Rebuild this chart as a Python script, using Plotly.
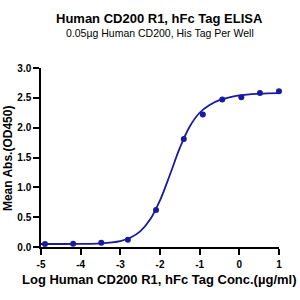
import plotly.graph_objects as go

# Measured points (log concentration, mean absorbance)
log_conc = [1.0, 0.52, 0.05, -0.43, -0.92, -1.40, -2.10, -2.81, -3.48, -4.19, -4.90]
mean_abs = [2.61, 2.58, 2.51, 2.47, 2.22, 1.81, 0.62, 0.12, 0.07, 0.055, 0.05]

# Fitted curve
fit_x = [-5.0, -4.0, -3.5, -3.0, -2.75, -2.5, -2.25, -2.0, -1.75, -1.5, -1.25, -1.0, -0.75, -0.5, 0.0, 0.5, 1.0]
fit_y = [0.05, 0.053, 0.062, 0.10, 0.154, 0.261, 0.459, 0.78, 1.21, 1.66, 2.02, 2.25, 2.38, 2.46, 2.54, 2.57, 2.58]

x_ticks = [-5, -4, -3, -2, -1, 0, 1]
x_tick_text = ["-5", "-4", "-3", "-2", "-1", "0", "1"]
y_ticks = [0.0, 0.5, 1.0, 1.5, 2.0, 2.5, 3.0]

title = "Human CD200 R1, hFc Tag ELISA"
subtitle = "0.05µg Human CD200, His Tag Per Well"
x_title = "Log Human CD200 R1, hFc Tag Conc.(µg/ml)"
y_title = "Mean Abs.(OD450)"

color = "#1a1a9e"
font = "Arial, Liberation Sans, sans-serif"

L, R, T, B = 40.7, 279.5, 68.3, 247.3
PW, PH = R - L, B - T

fig = go.Figure()
fig.add_trace(go.Scatter(x=fit_x, y=fit_y, mode="lines", line=dict(color=color, width=1.8, shape="spline"),
                         cliponaxis=False, showlegend=False, hoverinfo="skip"))
fig.add_trace(go.Scatter(x=log_conc, y=mean_abs, mode="markers", marker=dict(color=color, size=6),
                         cliponaxis=False, showlegend=False))

fig.update_layout(
    width=300, height=300,
    margin=dict(l=L, r=300 - R, t=T, b=300 - B),
    plot_bgcolor="white", paper_bgcolor="white",
    font=dict(family=font, color="black"),
    xaxis=dict(range=[-5, 1], tickvals=x_ticks, ticktext=x_tick_text, showgrid=False, zeroline=False,
               showline=True, linecolor="black", linewidth=1.5, ticks="outside", ticklen=6,
               tickwidth=1.5, tickcolor="black", ticklabelstandoff=1,
               tickfont=dict(size=10, family=font, weight="bold")),
    yaxis=dict(range=[0, 3], tickvals=y_ticks, tickformat=".1f", showgrid=False, zeroline=False,
               showline=True, linecolor="black", linewidth=1.5, ticks="outside", ticklen=6,
               tickwidth=1.5, tickcolor="black", tickfont=dict(size=10, family=font, weight="bold")),
    annotations=[
        dict(text="<b>" + title + "</b>", xref="paper", yref="paper", x=(160 - L) / PW,
             y=1 + (T - 19) / PH, xanchor="center", yanchor="middle",
             showarrow=False, font=dict(size=13, family=font)),
        dict(text=subtitle, xref="paper", yref="paper", x=(160 - L) / PW,
             y=1 + (T - 33) / PH, xanchor="center", yanchor="middle",
             showarrow=False, font=dict(size=10.5, family=font)),
        dict(text="<b>" + x_title + "</b>", xref="paper", yref="paper", x=(160 - L) / PW,
             y=-(280 - B) / PH, xanchor="center", yanchor="middle",
             showarrow=False, font=dict(size=13, family=font)),
        dict(text="<b>" + y_title + "</b>", xref="paper", yref="paper", x=-(L - 7) / PW,
             y=(B - 158) / PH, xanchor="center", yanchor="middle", textangle=-90,
             showarrow=False, font=dict(size=12, family=font)),
    ],
)

fig.write_html("out.html")
